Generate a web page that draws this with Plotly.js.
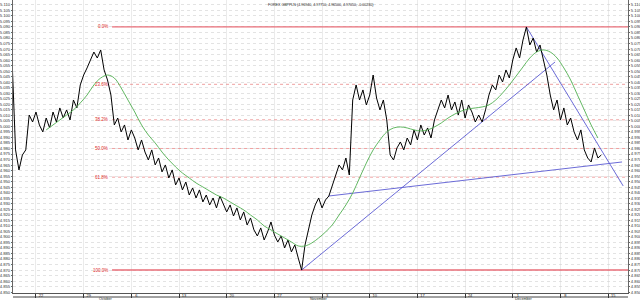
<!DOCTYPE html>
<html><head><meta charset="utf-8">
<script src="https://cdn.plot.ly/plotly-3.0.1.min.js"></script>
<style>html,body{margin:0;padding:0;background:#fff}#chart{width:640px;height:302px}</style>
</head><body><div id="chart"></div>
<script>
// ---- data ----
const chartTitle = 'FOREX GBPPLN (4.96940, 4.97750, 4.96500, 4.97050, -0.00230)';
const priceStart = '2008-09-18T12:00:00Z';
const priceStepHours = 12;
const closes = [
5.0583,4.9787,4.9606,4.9741,4.9787,5.0103,5.0040,5.0130,5.0013,4.9950,
5.0076,4.9986,5.0130,5.0040,5.0167,5.0076,5.0149,5.0058,5.0239,5.0167,
5.0375,5.0465,5.0529,5.0601,5.0673,5.0619,5.0692,5.0511,5.0420,5.0284,
5.0013,5.0076,4.9950,5.0013,4.9877,4.9968,4.9895,4.9787,4.9877,4.9768,
4.9696,4.9787,4.9651,4.9714,4.9588,4.9651,4.9533,4.9606,4.9470,4.9533,
4.9425,4.9497,4.9379,4.9443,4.9352,4.9425,4.9316,4.9379,4.9289,4.9352,
4.9262,4.9370,4.9298,4.9226,4.9289,4.9189,4.9262,4.9153,4.9226,4.9108,
4.9171,4.9063,4.9008,4.9081,4.8972,4.9044,4.9135,4.9017,4.8954,4.9008,
4.8900,4.8972,4.8864,4.8927,4.8809,4.8700,4.8927,4.9063,4.9198,4.9289,
4.9352,4.9262,4.9334,4.9370,4.9470,4.9560,4.9651,4.9606,4.9714,4.9560,
5.0239,5.0375,5.0239,5.0330,5.0194,5.0284,5.0465,5.0257,5.0149,5.0239,
5.0058,4.9741,4.9696,4.9805,4.9859,4.9787,4.9895,4.9832,4.9968,4.9877,
5.0013,4.9922,4.9986,4.9895,5.0058,5.0149,5.0239,5.0167,5.0284,5.0149,
5.0221,5.0103,5.0239,5.0076,5.0194,5.0130,5.0040,5.0103,5.0040,5.0149,
5.0284,5.0375,5.0330,5.0465,5.0402,5.0511,5.0438,5.0601,5.0710,5.0619,
5.0782,5.0900,5.0737,5.0800,5.0673,5.0737,5.0601,5.0465,5.0284,5.0149,
5.0239,5.0058,5.0167,5.0013,5.0076,4.9950,4.9877,4.9968,4.9787,4.9714,
4.9678,4.9805,4.9714,4.9741
];
const maStart = '2008-09-23T12:00:00Z';
const maStepHours = 24;
const maValues = [
4.9968,5.0013,5.0058,5.0103,5.0149,5.0212,5.0284,5.0375,5.0438,5.0465,
5.0438,5.0348,5.0239,5.0130,5.0013,4.9922,4.9850,4.9768,4.9696,4.9633,
4.9578,4.9533,4.9488,4.9452,4.9415,4.9379,4.9352,4.9316,4.9280,4.9244,
4.9198,4.9153,4.9099,4.9063,4.9026,4.8990,4.8954,4.8918,4.8918,4.8945,
4.8990,4.9044,4.9108,4.9198,4.9289,4.9397,4.9533,4.9668,4.9787,4.9877,
4.9950,4.9986,4.9995,4.9986,4.9968,4.9959,4.9968,4.9995,5.0031,5.0076,
5.0112,5.0140,5.0158,5.0167,5.0176,5.0194,5.0239,5.0302,5.0375,5.0456,
5.0538,5.0619,5.0673,5.0692,5.0673,5.0619,5.0529,5.0420,5.0284,5.0149,
5.0013,4.9895
];
const fibHigh = 5.0900;
const fibLow = 4.8700;
const fibRatios = [0, 0.236, 0.382, 0.5, 0.618, 1];
const fibLabels = ['0.0%', '23.6%', '38.2%', '50.0%', '61.8%', '100.0%'];
const fibStart = '2008-10-03 04:00';
const trendRiseX = ['2008-10-31 00:00', '2008-12-07 05:00'];
const trendRiseY = [4.8700, 5.0583];
const trendSupportX = ['2008-11-04 00:00', '2008-12-17 01:00'];
const trendSupportY = [4.9370, 4.9678];
const trendFallX = ['2008-12-03 00:00', '2008-12-17 05:00'];
const trendFallY = [5.0900, 4.9461];
const tickDates = ['2008-09-22','2008-09-29','2008-10-06','2008-10-13','2008-10-20','2008-10-27','2008-11-03','2008-11-10','2008-11-17','2008-11-24','2008-12-01','2008-12-08','2008-12-15'];
const tickLabels = ['22','29','6','13','20','27','3','10','17','24','1','8','15'];
const monthDates = ['2008-10-01','2008-11-01','2008-12-01'];
const monthLabels = ['October','November','December'];
const xRange = ['2008-09-18 15:00', '2008-12-17 22:00'];
const yRange = [4.8492, 5.1144];

// ---- build ----
function series(start, stepH, n) {
  const t0 = Date.parse(start);
  const out = [];
  for (let i = 0; i < n; i++) {
    out.push(new Date(t0 + i * stepH * 3600000).toISOString().slice(0, 16).replace('T', ' '));
  }
  return out;
}
const priceX = series(priceStart, priceStepHours, closes.length);
const maX = series(maStart, maStepHours, maValues.length);
const fibLevels = fibRatios.map(r => fibHigh - r * (fibHigh - fibLow));

const FONT = 'Liberation Sans, Arial, sans-serif';
const traces = [];
fibLevels.forEach((lv, k) => {
  const solid = (k === 0 || k === fibLevels.length - 1);
  traces.push({
    type: 'scatter', mode: 'lines', x: [fibStart, xRange[1]], y: [lv, lv],
    line: { color: solid ? 'rgb(232,110,120)' : 'rgb(232,120,120)', width: solid ? 1.3 : 0.7, dash: solid ? 'solid' : 'dot' },
    hoverinfo: 'skip'
  });
});
traces.push({ type: 'scatter', mode: 'lines', x: maX, y: maValues, yaxis: 'y2',
  line: { color: 'rgb(80,175,80)', width: 0.9, shape: 'spline' }, hoverinfo: 'skip' });
[[trendRiseX, trendRiseY], [trendSupportX, trendSupportY], [trendFallX, trendFallY]].forEach(([tx, ty]) => {
  traces.push({ type: 'scatter', mode: 'lines', x: tx, y: ty,
    line: { color: 'rgb(90,90,210)', width: 0.9 }, hoverinfo: 'skip' });
});
traces.push({ type: 'scatter', mode: 'lines', x: priceX, y: closes,
  line: { color: '#000', width: 1 }, hoverinfo: 'skip' });

const annotations = fibLevels.map((lv, k) => ({
  x: fibStart, y: lv, xref: 'x', yref: 'y', text: fibLabels[k], showarrow: false,
  xanchor: 'right', yanchor: 'middle', xshift: -2,
  font: { family: FONT, size: 4.5, color: 'rgb(220,40,40)' }
}));
monthDates.forEach((d, k) => annotations.push({
  x: d, y: -0.0307, xref: 'x', yref: 'paper', text: monthLabels[k], showarrow: false,
  xanchor: 'left', yanchor: 'bottom', xshift: 1, borderpad: 0,
  font: { family: FONT, size: 3.6, color: '#222' }
}));
annotations.push({
  x: 0.5, y: 1, xref: 'paper', yref: 'paper', text: chartTitle, showarrow: false,
  xanchor: 'center', yanchor: 'top', yshift: -1,
  font: { family: FONT, size: 3.6, color: '#222' }
});

const yCommon = {
  range: yRange, tickmode: 'linear', tick0: 4.85, dtick: 0.005, tickformat: '.3f',
  tickfont: { family: FONT, size: 4.2, color: '#333' },
  showgrid: true, gridcolor: '#d0d0d0', griddash: 'dot', gridwidth: 0.6,
  zeroline: false, showline: true, linecolor: '#666', linewidth: 1,
  ticks: 'outside', ticklen: 1, tickcolor: '#666'
};
const layout = {
  width: 640, height: 302,
  margin: { l: 13, r: 12, t: 0, b: 9, pad: 0 },
  paper_bgcolor: '#fff', plot_bgcolor: '#fff',
  showlegend: false, hovermode: false,
  xaxis: {
    type: 'date', range: xRange, tickmode: 'array', tickvals: tickDates, ticktext: tickLabels,
    tickfont: { family: FONT, size: 4, color: '#222' },
    ticks: 'outside', ticklen: 4, tickcolor: '#333',
    ticklabelshift: 5, ticklabelstandoff: -6,
    showgrid: true, gridcolor: '#dedede', gridwidth: 0.6,
    showline: true, linecolor: '#555', linewidth: 1, mirror: true, zeroline: false
  },
  yaxis: Object.assign({}, yCommon, { side: 'left' }),
  yaxis2: Object.assign({}, yCommon, { side: 'right', overlaying: 'y', matches: 'y', showgrid: false }),
  shapes: [{ type: 'line', xref: 'paper', yref: 'paper', x0: 0, x1: 1, y0: -0.0137, y1: -0.0137,
    line: { color: '#444', width: 1 } }],
  annotations: annotations
};
Plotly.newPlot('chart', traces, layout, { staticPlot: true, displayModeBar: false });
</script>
</body></html>
